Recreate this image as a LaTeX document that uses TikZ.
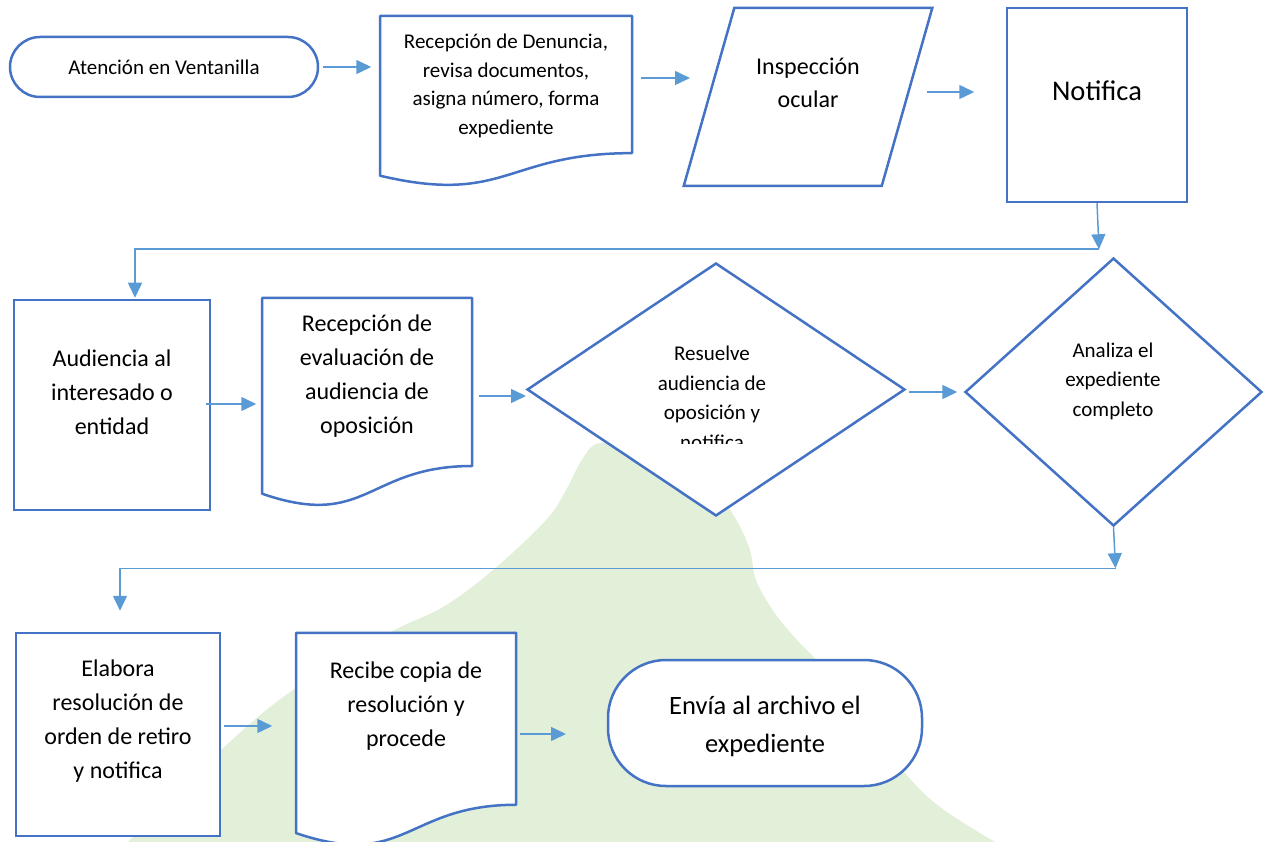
\documentclass[tikz,border=0pt]{standalone}
\usepackage{fontspec}
\setmainfont{Carlito}
\usetikzlibrary{arrows.meta,calc,shapes.geometric}
\definecolor{borde}{RGB}{68,114,196}
\definecolor{flecha}{RGB}{91,155,213}
\definecolor{fondo}{RGB}{226,240,217}
\newcommand{\documento}[1]{%
  \filldraw[draw=borde,fill=white,line width=2.5pt,line join=round]
    (#1.north west) -- (#1.north east) -- ($(#1.north east)!0.802!(#1.south east)$)
    .. controls ($(#1.north)!0.802!(#1.south)$) and ($(#1.north)!1.1075!(#1.south)$)
    .. ($(#1.north west)!0.934!(#1.south west)$) -- cycle;}

\begin{document}
\begin{tikzpicture}[x=1pt,y=-1pt,>={Triangle[length=15pt,width=14pt]},
  caja/.style={draw=borde,line width=2.5pt,fill=white,inner sep=0pt},
  hoja/.style={inner sep=0pt,outer sep=0pt},
  flecha/.style={->,draw=flecha,line width=1.5pt},
  txtA/.style={align=center,font=\fontsize{21}{28.5}\selectfont},
  txtB/.style={align=center,font=\fontsize{24}{34}\selectfont}]
  \useasboundingbox (0,0) rectangle (1266,842);
  % fondo verde detras del diagrama
  \fill[fondo] plot[smooth,tension=0.6] coordinates {(128,842) (221,750) (293,690) (389,633)
    (443,607) (493,570) (546,520) (566,490) (583,458) (600,443) (640,450) (700,480)
    (730,510) (749,547) (756,580) (774,612) (797,640) (818,662) (860,715) (905,773)
    (940,807) (995,842)} -- cycle;

  \node[caja,rounded corners=30pt,minimum width=308pt,minimum height=60pt] (atencion) at (164,67) {};
  \node[txtA] (tAtencion) at (164,67) {Atención en Ventanilla};

  \node[hoja,minimum width=252pt,minimum height=171pt] (denuncia) at (506,101.5) {};
  \documento{denuncia}
  \node[txtA] (tDenuncia) at (506,86) {Recepción de Denuncia,\\revisa documentos,\\asigna número, forma\\expediente};

  \node[caja,xslant=0.284,minimum width=198pt,minimum height=178pt] (inspeccion) at (808,97) {};
  \node[txtB,font=\fontsize{24}{33}\selectfont] (tInspeccion) at (808,83) {Inspección\\ocular};

  \node[caja,minimum width=180pt,minimum height=194pt] (notifica) at (1097,105) {};
  \node[font=\fontsize{28.5}{34}\selectfont] (tNotifica) at (1097,91) {Notifica};

  \node[caja,minimum width=196pt,minimum height=210pt] (audiencia) at (112,405) {};
  \node[txtB] (tAudiencia) at (112,392) {Audiencia al\\interesado o\\entidad};

  \node[hoja,minimum width=210pt,minimum height=209.5pt] (evaluacion) at (367,402.75) {};
  \documento{evaluacion}
  \node[txtB] (tEvaluacion) at (367,376) {Recepción de\\evaluación de\\audiencia de\\oposición};

  \node[caja,diamond,minimum width=378pt,minimum height=253pt] (resuelve) at (716,389.5) {};
  \begin{scope}
    \clip (520,250) rectangle (910,443);
    \node[txtA,font=\fontsize{21}{29.5}\selectfont] (tResuelve) at (712,398) {Resuelve\\audiencia de\\oposición y\\notifica};
  \end{scope}

  \node[caja,diamond,minimum width=297pt,minimum height=268pt] (analiza) at (1113.5,392) {};
  \node[txtA,font=\fontsize{21}{29.5}\selectfont] (tAnaliza) at (1113,381) {Analiza el\\expediente\\completo};

  \node[caja,minimum width=204pt,minimum height=203pt] (elabora) at (118,734.5) {};
  \node[txtB] (tElabora) at (118,721.5) {Elabora\\resolución de\\orden de retiro\\y notifica};

  \node[hoja,minimum width=220pt,minimum height=214.5pt] (copia) at (406,740) {};
  \documento{copia}
  \node[txtB] (tCopia) at (406,706) {Recibe copia de\\resolución y\\procede};

  \node[caja,rounded corners=58pt,minimum width=314pt,minimum height=126pt] (envia) at (765,723) {};
  \node[align=center,font=\fontsize{26.5}{38}\selectfont] (tEnvia) at (765,726) {Envía al archivo el\\expediente};

  \coordinate (codo1) at ([xshift=2pt,yshift=-46pt]notifica.south);
  \coordinate (codo2) at ([xshift=2pt,yshift=-41pt]analiza.south);

  \draw[flecha] ([xshift=4pt]atencion.east) -- ++(48,0);
  \draw[flecha] ([xshift=9pt,yshift=23.5pt]denuncia.east) -- ++(49,0);
  \draw[flecha] ([xshift=19pt,yshift=5pt]inspeccion.east) -- ++(47,0);
  \draw[flecha] (notifica.south) -- (codo1);
  \draw[flecha] (codo1) -| ([xshift=23pt,yshift=1pt]audiencia.north);
  \draw[flecha] ([xshift=-5pt,yshift=1pt]audiencia.east) -- ++(50,0);
  \draw[flecha] ([xshift=7pt,yshift=6.75pt]evaluacion.east) -- ++(47,0);
  \draw[flecha] ([xshift=3pt,yshift=-2.5pt]resuelve.east) -- ++(48,0);
  \draw[flecha] (analiza.south) -- (codo2);
  \draw[flecha] (codo2) -| ([xshift=2pt,yshift=21pt]elabora.north);
  \draw[flecha] ([xshift=3pt,yshift=8.5pt]elabora.east) -- ++(48,0);
  \draw[flecha] ([xshift=4pt,yshift=6pt]copia.east) -- ++(46,0);
\end{tikzpicture}
\end{document}
